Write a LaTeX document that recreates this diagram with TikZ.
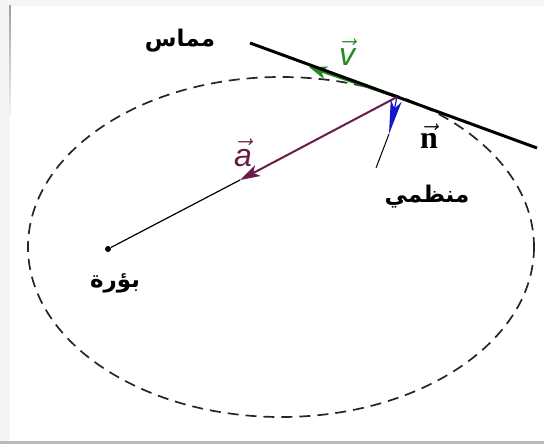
\documentclass[tikz,border=0pt]{standalone}
\usepackage{fontspec}
\usepackage{xcolor}
\usepackage{tikz}
\usetikzlibrary{arrows.meta}
\TeXXeTstate=1
\newfontfamily\arabicfont[Script=Arabic]{DejaVu Sans}
\newfontfamily\labelsans{Liberation Sans}
\newfontfamily\labelserif{Liberation Serif}
\definecolor{velgreen}{RGB}{34,140,34}
\definecolor{accmaroon}{RGB}{105,28,72}
\definecolor{normblue}{RGB}{20,20,200}

\begin{document}
\begin{tikzpicture}[x=0.5pt,y=-0.5pt,
    arlabel/.style={font=\arabicfont\bfseries\fontsize{11.5}{14}\selectfont},
    veclabel/.style={font=\labelsans\itshape\fontsize{16}{18}\selectfont},
    orbit/.style={line width=0.85pt,dash pattern=on 5.5pt off 3.5pt,black!85}]
    \useasboundingbox (0,0) rectangle (544,444);
    \fill[gray!8] (0,0) rectangle (544,444);
    \fill[white] (10,6) rectangle (544,441);
    \fill[gray!55] (0,441) rectangle (544,444);
    \shade[top color=gray!75,bottom color=gray!10] (9.2,6) rectangle (10.8,115);

    \draw[orbit] (281,247) ellipse [x radius=253, y radius=170];

    \coordinate (tanL) at (250,43);
    \coordinate (tanR) at (537,148);
    \coordinate (contact) at (397,97);
    \coordinate (vtip) at (309,67);
    \coordinate (atip) at (240,180);
    \coordinate (normA) at (389,134);
    \coordinate (normB) at (376,168);
    \node[circle,fill=black,inner sep=0pt,minimum size=3pt] (focus) at (108,249) {};

    \draw[velgreen,line width=1.3pt,-{Stealth[length=9pt,width=6.5pt,inset=2.5pt]}] (contact) -- (vtip);
    \draw[line width=1.5pt] (tanL) -- (tanR);
    \draw[line width=0.6pt] (atip) -- (focus);
    \draw[accmaroon,line width=1pt,-{Stealth[length=10pt,width=6pt,inset=2.5pt]}] (contact) -- (atip);
    \draw[normblue,line width=0.6pt,-{Stealth[length=17pt,width=5.5pt,inset=4pt]}] (contact) -- (normA);
    \draw[line width=0.5pt] (normA) -- (normB);

    \node[arlabel] (tanlbl) at (180,41) {\beginR مماس\endR};
    \node[arlabel] (normlbl) at (427,197) {\beginR منظمي\endR};
    \node[arlabel] (focuslbl) at (115,283) {\beginR بؤرة\endR};
    \node[veclabel,text=velgreen] (vlbl) at (347,52) {$\vec{\hbox{\labelsans\itshape v}}$};
    \node[veclabel,text=accmaroon] (albl) at (243,153) {$\vec{\hbox{\labelsans\itshape a}}$};
    \node[font=\labelserif\bfseries\fontsize{16}{18}\selectfont] (nlbl) at (429,136) {$\vec{\hbox{\labelserif\bfseries n}}$};
\end{tikzpicture}
\end{document}
